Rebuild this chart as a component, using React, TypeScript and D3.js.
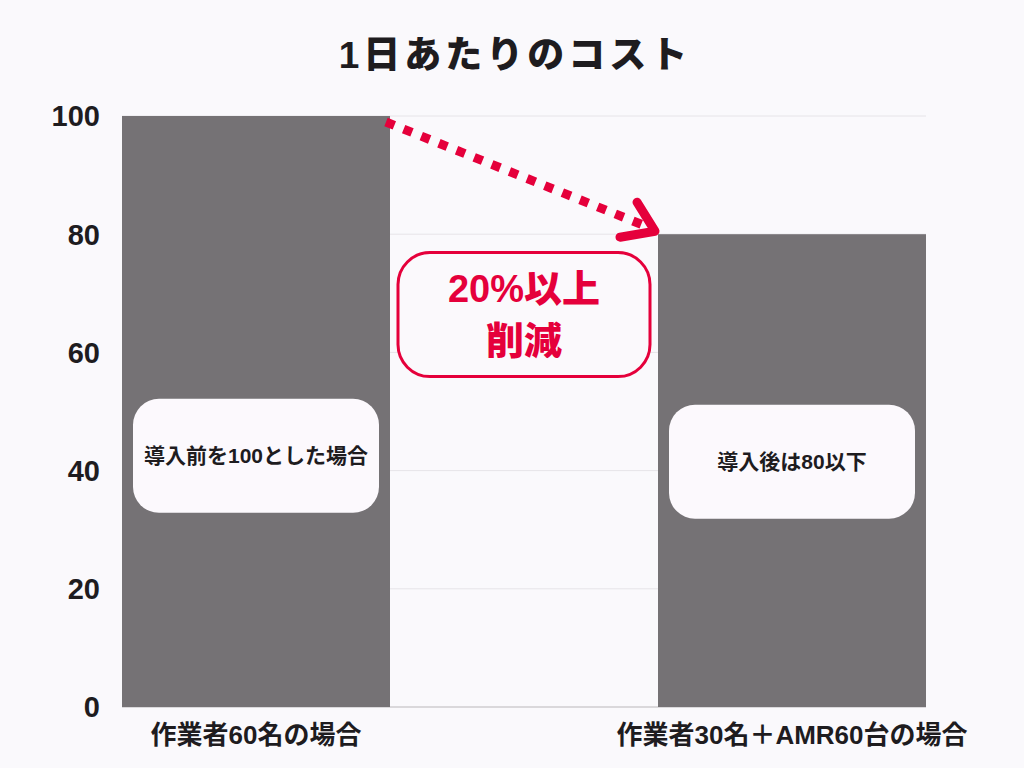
import { useRef, useEffect } from 'react';
import * as d3 from 'd3';

// chart data
const categories = ['作業者60名の場合', '作業者30名＋AMR60台の場合'];
const costValues = [100, 80];
const yTicks = [0, 20, 40, 60, 80, 100];
const barNotes = ['導入前を100とした場合', '導入後は80以下'];
const noteLevels = [42.5, 41.5];
const reductionText = ['20%以上', '削減'];

const RED = '#e5003b';
const FONT = '"Liberation Sans", "Noto Sans CJK JP", "Noto Sans", sans-serif';

const App = () => {
    const chartRef = useRef<SVGSVGElement>(null);

    useEffect(() => {
        if (!chartRef.current) return;
        d3.select(chartRef.current).selectAll('*').remove();

        const W = 1024;
        const H = 768;

        const svg = d3.select(chartRef.current)
            .attr('width', W)
            .attr('height', H);

        svg.append('rect')
            .attr('width', W)
            .attr('height', H)
            .attr('fill', '#faf9fc');

        // Scales
        const x = d3.scaleBand()
            .domain(categories)
            .range([122, 926])
            .paddingInner(0.5)
            .paddingOuter(0);

        const y = d3.scaleLinear()
            .domain([0, 100])
            .range([707, 116]);

        // Title
        svg.append('text')
            .attr('x', 515)
            .attr('y', 55)
            .attr('text-anchor', 'middle')
            .attr('dy', '0.35em')
            .attr('font-family', FONT)
            .attr('font-weight', 900)
            .attr('font-size', 37)
            .attr('letter-spacing', 4)
            .attr('fill', '#1e1c1f')
            .text('1日あたりのコスト');

        // Grid lines
        svg.append('g')
            .selectAll('line')
            .data(yTicks)
            .enter()
            .append('line')
            .attr('x1', 122)
            .attr('x2', 926)
            .attr('y1', d => y(d))
            .attr('y2', d => y(d))
            .attr('stroke', d => d === 0 ? '#cfcdd1' : '#e6e4e8')
            .attr('stroke-width', d => d === 0 ? 1.5 : 1);

        // Y-axis labels
        svg.append('g')
            .selectAll('text')
            .data(yTicks)
            .enter()
            .append('text')
            .attr('x', 100)
            .attr('y', d => y(d))
            .attr('dy', '0.36em')
            .attr('text-anchor', 'end')
            .attr('font-family', FONT)
            .attr('font-weight', 700)
            .attr('font-size', 29)
            .attr('fill', '#1e1c1f')
            .text(d => d);

        // Bars
        svg.append('g')
            .selectAll('rect')
            .data(costValues)
            .enter()
            .append('rect')
            .attr('x', (_, i) => x(categories[i]) || 0)
            .attr('y', d => y(d))
            .attr('width', x.bandwidth())
            .attr('height', d => y(0) - y(d))
            .attr('fill', '#757275');

        // X labels
        svg.append('g')
            .selectAll('text')
            .data(categories)
            .enter()
            .append('text')
            .attr('x', d => (x(d) || 0) + x.bandwidth() / 2)
            .attr('y', 735)
            .attr('dy', '0.35em')
            .attr('text-anchor', 'middle')
            .attr('font-family', FONT)
            .attr('font-weight', 700)
            .attr('font-size', 26)
            .attr('fill', '#1e1c1f')
            .text(d => d);

        // Notes on bars
        const notes = svg.append('g')
            .selectAll('g')
            .data(barNotes)
            .enter()
            .append('g')
            .attr('transform', (_, i) => {
                const cx = (x(categories[i]) || 0) + x.bandwidth() / 2;
                return `translate(${cx},${y(noteLevels[i])})`;
            });

        notes.append('rect')
            .attr('x', -123)
            .attr('y', -57)
            .attr('width', 246)
            .attr('height', 114)
            .attr('rx', 26)
            .attr('fill', '#fcf9fd');

        notes.append('text')
            .attr('dy', '0.35em')
            .attr('text-anchor', 'middle')
            .attr('font-family', FONT)
            .attr('font-weight', 700)
            .attr('font-size', 21)
            .attr('fill', '#1e1c1f')
            .text(d => d);

        // Dotted arrow from bar 1 top to bar 2 top
        const x0 = (x(categories[0]) || 0) + x.bandwidth() - 4;
        const x1 = x(categories[1]) || 0;
        const arrow = svg.append('g');
        arrow.append('line')
            .attr('x1', x0)
            .attr('y1', y(costValues[0]) + 6)
            .attr('x2', x1 - 12)
            .attr('y2', y(costValues[1]) - 8)
            .attr('stroke', RED)
            .attr('stroke-width', 9)
            .attr('stroke-dasharray', '9,10');

        const tipX = x1 - 3;
        const tipY = y(costValues[1]) - 3;
        arrow.append('path')
            .attr('d', `M${tipX - 18},${tipY - 29} L${tipX},${tipY} L${tipX - 35},${tipY + 6}`)
            .attr('fill', 'none')
            .attr('stroke', RED)
            .attr('stroke-width', 9)
            .attr('stroke-linecap', 'round')
            .attr('stroke-linejoin', 'round');

        // Reduction callout
        const callout = svg.append('g')
            .attr('transform', `translate(${(x0 + x1) / 2 + 2},${y(66.4)})`);

        callout.append('rect')
            .attr('x', -126)
            .attr('y', -62)
            .attr('width', 252)
            .attr('height', 124)
            .attr('rx', 32)
            .attr('fill', '#fbf9fc')
            .attr('stroke', RED)
            .attr('stroke-width', 3);

        callout.selectAll('text')
            .data(reductionText)
            .enter()
            .append('text')
            .attr('y', (_, i) => -26 + i * 52)
            .attr('dy', '0.35em')
            .attr('text-anchor', 'middle')
            .attr('font-family', FONT)
            .attr('font-weight', 900)
            .attr('font-size', 38)
            .attr('fill', RED)
            .text(d => d);
    }, []);

    return (
        <div style={{ position: 'absolute', left: 0, top: 0 }}>
            <svg ref={chartRef} style={{ display: 'block' }} />
        </div>
    );
};

export default App;
